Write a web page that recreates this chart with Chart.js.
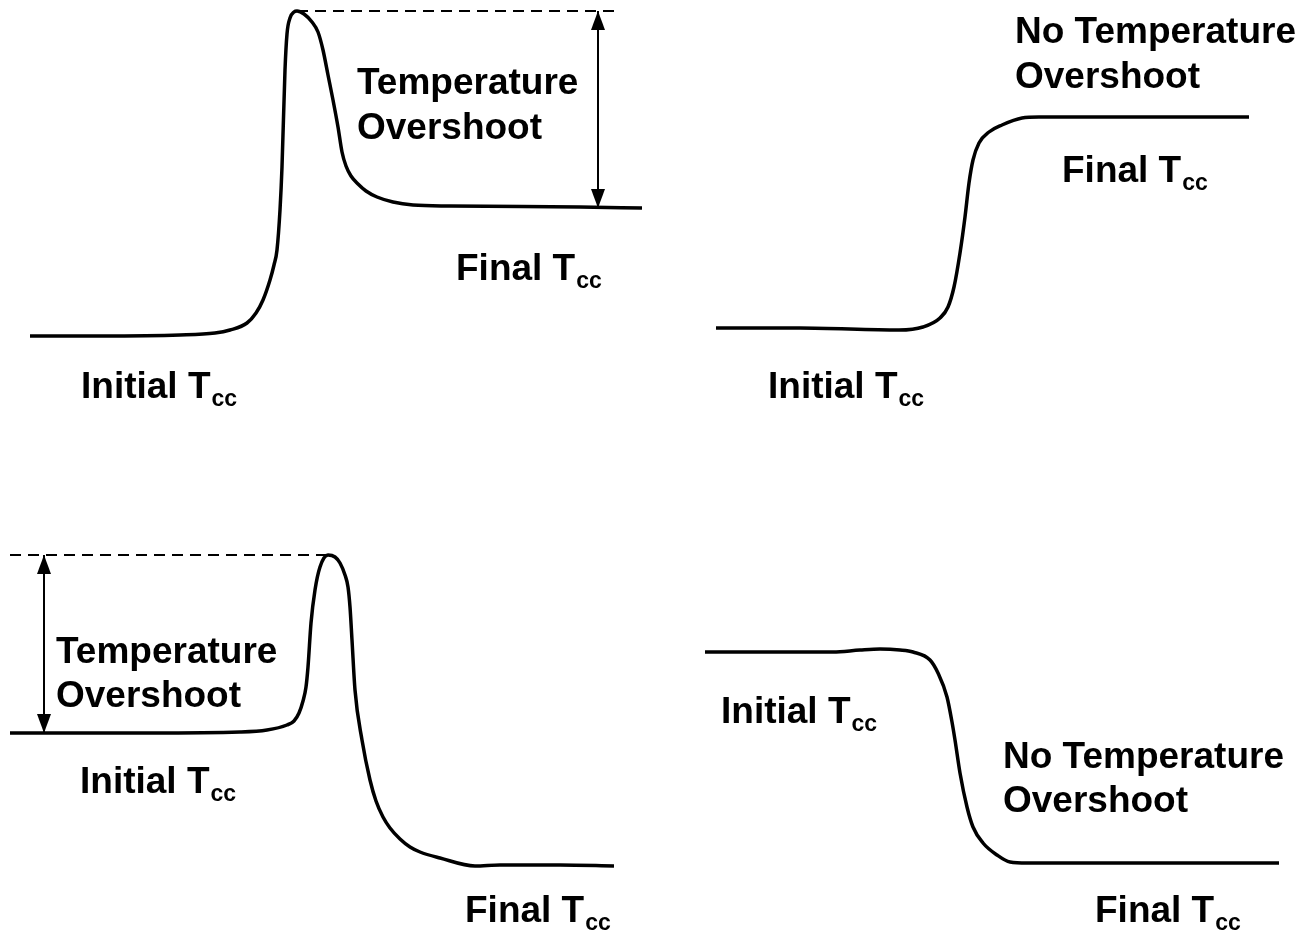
<!DOCTYPE html>
<html>
<head>
<meta charset="utf-8">
<script src="https://cdn.jsdelivr.net/npm/chart.js@4/dist/chart.umd.min.js"></script>
<style>
  html, body { margin: 0; padding: 0; background: #fff; }
  #wrap { position: relative; width: 1303px; height: 937px; overflow: hidden; }
  #wrap canvas { position: absolute; }
</style>
</head>
<body>
<div id="wrap">
  <canvas id="tl" width="651" height="420" style="left:0;top:0"></canvas>
  <canvas id="tr" width="652" height="420" style="left:651px;top:0"></canvas>
  <canvas id="bl" width="651" height="420" style="left:0;top:517px"></canvas>
  <canvas id="br" width="652" height="420" style="left:651px;top:517px"></canvas>
</div>
<script>
// heating with overshoot (top left)
const heatOverTime = [3.0, 10.0, 18.0, 21.5, 23.0, 24.7, 25.6, 26.3, 27.0, 27.4, 27.7, 28.0, 28.2, 28.5, 28.7, 29.0, 29.4, 29.7, 30.4, 31.2, 31.8, 32.3, 32.8, 33.3, 33.8, 34.2, 34.6, 35.1, 35.8, 36.6, 37.7, 39.3, 41.3, 45.0, 58.0, 64.2];
const heatOverTemp = [8.4, 8.4, 8.5, 8.7, 9.0, 9.7, 10.7, 12.0, 14.0, 15.5, 17.0, 21.0, 25.3, 35.0, 38.6, 40.2, 40.8, 40.9, 40.6, 39.8, 38.8, 37.0, 34.5, 32.0, 29.3, 26.8, 25.4, 24.4, 23.6, 22.9, 22.3, 21.8, 21.5, 21.4, 21.3, 21.2];

// heating without overshoot (top right)
const heatTime = [6.5, 14.9, 24.8, 27.2, 28.9, 29.7, 30.3, 30.9, 31.4, 31.8, 32.2, 32.8, 33.8, 35.1, 37.1, 38.8, 59.8];
const heatTemp = [9.2, 9.2, 9.0, 9.3, 10.2, 11.3, 13.3, 16.7, 20.3, 23.7, 26.0, 27.7, 28.8, 29.5, 30.2, 30.3, 30.3];

// cooling with overshoot (bottom left)
const coolOverTime = [1.0, 15.0, 24.0, 26.7, 28.7, 29.4, 29.9, 30.3, 30.6, 30.8, 31.1, 31.5, 32.0, 32.8, 33.5, 34.0, 34.5, 34.8, 35.0, 35.2, 35.5, 36.2, 37.0, 37.6, 38.3, 39.0, 40.0, 41.0, 42.0, 44.0, 47.5, 50.0, 56.0, 61.4];
const coolOverTemp = [20.4, 20.4, 20.5, 20.7, 21.2, 21.6, 22.4, 23.6, 25.0, 27.0, 31.4, 34.7, 37.0, 38.2, 38.0, 37.4, 36.2, 35.0, 33.0, 29.7, 24.7, 19.7, 15.7, 13.6, 12.0, 10.9, 9.8, 9.0, 8.5, 7.9, 7.1, 7.2, 7.2, 7.1];

// cooling without overshoot (bottom right)
const coolTime = [5.4, 18.2, 20.9, 22.9, 24.9, 26.2, 27.9, 28.7, 29.6, 30.1, 30.4, 30.9, 31.6, 32.2, 33.2, 34.6, 35.9, 37.6, 44.9, 62.8];
const coolTemp = [28.5, 28.5, 28.7, 28.8, 28.7, 28.5, 27.7, 26.4, 24.0, 21.5, 19.7, 16.4, 13.0, 11.0, 9.4, 8.2, 7.5, 7.4, 7.4, 7.4];

// overshoot guides: dashed peak level and double arrow
const tlPeakLine = { time: [29.7, 62.0], temp: [40.9, 40.9] };
const tlArrow = { time: [59.8, 59.8], temp: [40.9, 21.2] };
const blPeakLine = { time: [1.0, 32.8], temp: [38.2, 38.2] };
const blArrow = { time: [4.4, 4.4], temp: [38.2, 20.4] };

const FONT = '"Liberation Sans", Arial, Helvetica, sans-serif';

function pts(xs, ys) {
  return xs.map((x, i) => ({ x: x, y: ys[i] }));
}

// text + arrow heads drawn through the chart scales
function notesPlugin(labels, arrow) {
  return {
    id: 'notes',
    afterDatasetsDraw(chart) {
      const ctx = chart.ctx;
      const xs = chart.scales.x, ys = chart.scales.y;
      ctx.save();
      ctx.fillStyle = '#000';
      ctx.textBaseline = 'alphabetic';
      ctx.textAlign = 'left';
      labels.forEach(l => {
        const px = xs.getPixelForValue(l.x);
        const py = ys.getPixelForValue(l.y);
        ctx.font = 'bold 37px ' + FONT;
        ctx.fillText(l.text, px, py);
        if (l.sub) {
          const w = ctx.measureText(l.text).width;
          ctx.font = 'bold 23px ' + FONT;
          ctx.fillText(l.sub, px + w + 1, py + 8);
        }
      });
      if (arrow) {
        const ax = xs.getPixelForValue(arrow.time[0]);
        const top = ys.getPixelForValue(arrow.temp[0]);
        const bot = ys.getPixelForValue(arrow.temp[1]);
        const hw = 7, hl = 19;
        ctx.beginPath();
        ctx.moveTo(ax, top);
        ctx.lineTo(ax - hw, top + hl);
        ctx.lineTo(ax + hw, top + hl);
        ctx.closePath();
        ctx.fill();
        ctx.beginPath();
        ctx.moveTo(ax, bot);
        ctx.lineTo(ax - hw, bot - hl);
        ctx.lineTo(ax + hw, bot - hl);
        ctx.closePath();
        ctx.fill();
      }
      ctx.restore();
    }
  };
}

function makePanel(id, curve, guides, labels, arrow) {
  const canvas = document.getElementById(id);
  const datasets = [{
    data: curve,
    borderColor: '#000',
    borderWidth: 3.5,
    pointRadius: 0,
    cubicInterpolationMode: 'monotone',
    clip: false
  }];
  guides.forEach(g => datasets.push({
    data: pts(g.time, g.temp),
    borderColor: '#000',
    borderWidth: 2,
    borderDash: g.dash ? [11, 7] : [],
    pointRadius: 0,
    clip: false
  }));
  return new Chart(canvas, {
    type: 'line',
    data: { datasets: datasets },
    options: {
      responsive: false,
      animation: false,
      layout: { padding: 0 },
      scales: {
        x: { type: 'linear', min: 0, max: canvas.width / 10, display: false },
        y: { type: 'linear', min: 0, max: canvas.height / 10, display: false }
      },
      plugins: { legend: { display: false }, tooltip: { enabled: false } }
    },
    plugins: [notesPlugin(labels, arrow)]
  });
}

makePanel('tl', pts(heatOverTime, heatOverTemp),
  [Object.assign({ dash: true }, tlPeakLine), tlArrow],
  [
    { text: 'Temperature', x: 35.7, y: 32.6 },
    { text: 'Overshoot', x: 35.7, y: 28.1 },
    { text: 'Final T', sub: 'cc', x: 45.6, y: 14.0 },
    { text: 'Initial T', sub: 'cc', x: 8.1, y: 2.2 }
  ], tlArrow);

makePanel('tr', pts(heatTime, heatTemp), [],
  [
    { text: 'No Temperature', x: 36.4, y: 37.7 },
    { text: 'Overshoot', x: 36.4, y: 33.2 },
    { text: 'Final T', sub: 'cc', x: 41.1, y: 23.8 },
    { text: 'Initial T', sub: 'cc', x: 11.7, y: 2.2 }
  ], null);

makePanel('bl', pts(coolOverTime, coolOverTemp),
  [Object.assign({ dash: true }, blPeakLine), blArrow],
  [
    { text: 'Temperature', x: 5.6, y: 27.4 },
    { text: 'Overshoot', x: 5.6, y: 23.0 },
    { text: 'Initial T', sub: 'cc', x: 8.0, y: 14.4 },
    { text: 'Final T', sub: 'cc', x: 46.5, y: 1.5 }
  ], blArrow);

makePanel('br', pts(coolTime, coolTemp), [],
  [
    { text: 'Initial T', sub: 'cc', x: 7.0, y: 21.4 },
    { text: 'No Temperature', x: 35.2, y: 16.9 },
    { text: 'Overshoot', x: 35.2, y: 12.5 },
    { text: 'Final T', sub: 'cc', x: 44.4, y: 1.5 }
  ], null);
</script>
</body>
</html>
